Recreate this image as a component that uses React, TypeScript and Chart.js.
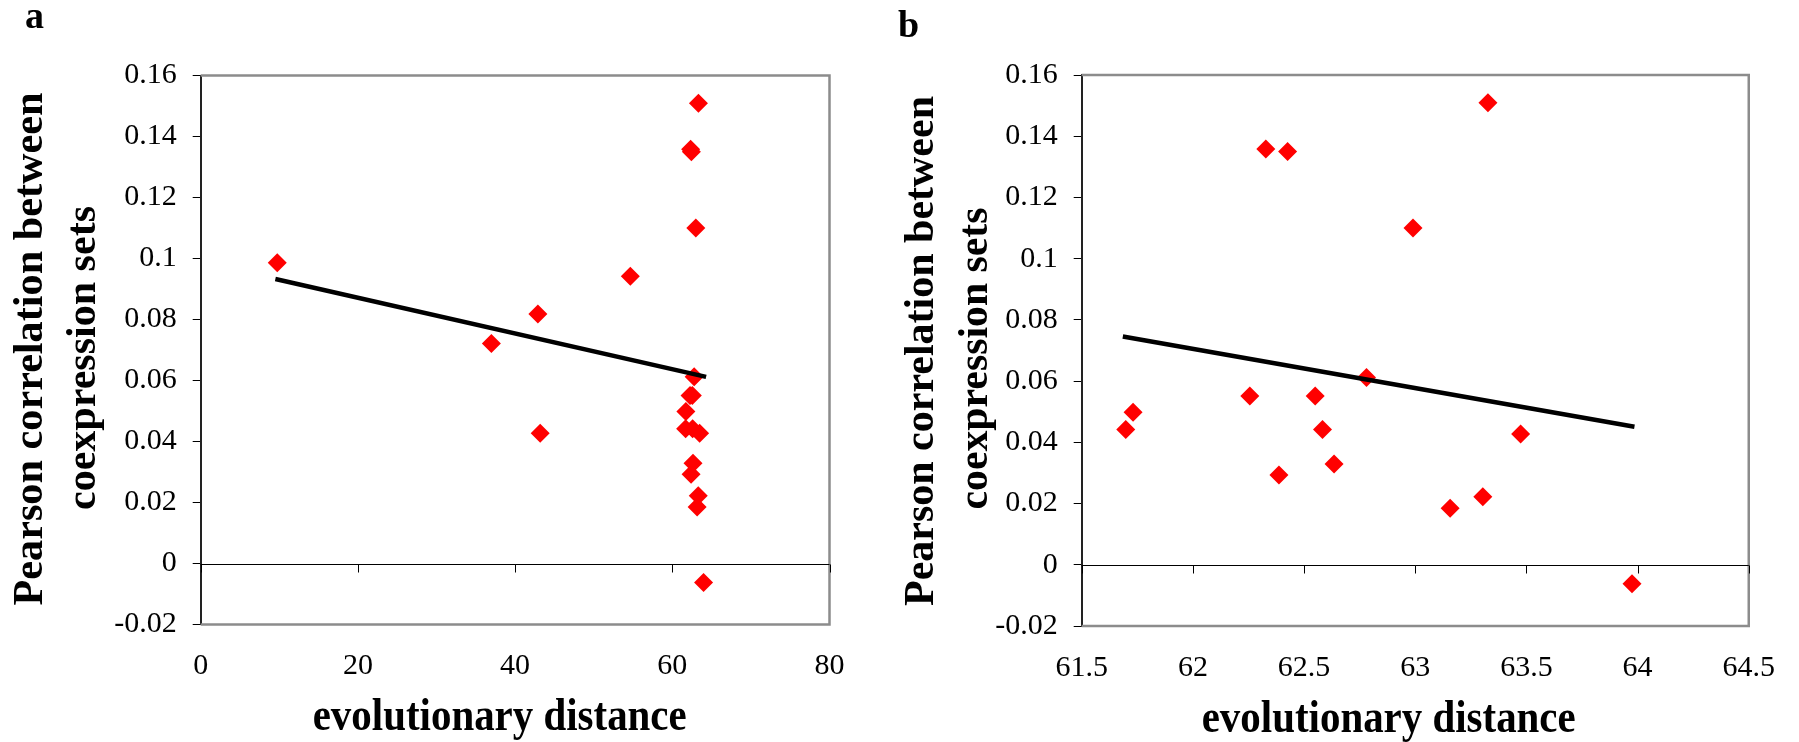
import React, { useEffect, useRef } from "react";
import { Chart, registerables } from "chart.js";

Chart.register(...registerables);

const FONT = '"Liberation Serif", "Times New Roman", Times, serif';

// ---- data ----
// points only present in panel a (small evolutionary distances)
const farDistanceA = [9.74, 36.98, 42.9, 43.19, 54.66];
const farCorrA = [0.0986, 0.0721, 0.0818, 0.0427, 0.0942];

// cluster of points (panel b, also shown in panel a)
const clusterDistance = [
  61.698, 61.731, 62.256, 62.328, 62.387, 62.426, 62.55, 62.583, 62.635, 62.781,
  62.99, 63.157, 63.304, 63.327, 63.474, 63.975,
];
const clusterCorr = [
  0.0442, 0.0498, 0.0551, 0.1358, 0.0293, 0.135, 0.0551, 0.0442, 0.0329, 0.0612,
  0.11, 0.0185, 0.0222, 0.1509, 0.0427, -0.0062,
];

// linear trend lines (end points)
const trendXA = [9.5, 64.3];
const trendYA = [0.0933, 0.0612];
const trendXB = [61.685, 63.986];
const trendYB = [0.0746, 0.0451];

// ticks
const yTicks = [-0.02, 0, 0.02, 0.04, 0.06, 0.08, 0.1, 0.12, 0.14, 0.16];
const xTicksA = [0, 20, 40, 60, 80];
const xTicksB = [61.5, 62, 62.5, 63, 63.5, 64, 64.5];

// texts
const panelLetters = ["a", "b"];
const yTitleLines = ["Pearson correlation between", "coexpression sets"];
const xTitle = "evolutionary distance";

type PanelSpec = {
  left: number;
  width: number;
  xMin: number;
  xMax: number;
  xTicks: number[];
  xs: number[];
  ys: number[];
  trendX: number[];
  trendY: number[];
  padTop: number;
  padRight: number;
  yAxisWidth: number;
  xAxisHeight: number;
  letter: string;
  letterX: number;
  letterBase: number;
  yTitleBase: number[];
  yTitleCenter: number[];
  yTitleLen: number[];
  xTitleCenter: number;
  xTitleBase: number;
  xTitleWidth: number;
};

const panels: PanelSpec[] = [
  {
    left: 0,
    width: 880,
    xMin: 0,
    xMax: 80,
    xTicks: xTicksA,
    xs: [...farDistanceA, ...clusterDistance],
    ys: [...farCorrA, ...clusterCorr],
    trendX: trendXA,
    trendY: trendYA,
    padTop: 75.5,
    padRight: 50.5,
    yAxisWidth: 200.7,
    xAxisHeight: 117.5,
    letter: panelLetters[0],
    letterX: 25,
    letterBase: 28.3,
    yTitleBase: [41.7, 95],
    yTitleCenter: [349, 358],
    yTitleLen: [513, 304],
    xTitleCenter: 499.7,
    xTitleBase: 730,
    xTitleWidth: 374,
  },
  {
    left: 880,
    width: 919,
    xMin: 61.5,
    xMax: 64.5,
    xTicks: xTicksB,
    xs: clusterDistance,
    ys: clusterCorr,
    trendX: trendXB,
    trendY: trendYB,
    padTop: 75,
    padRight: 48.5,
    yAxisWidth: 201.7,
    xAxisHeight: 116,
    letter: panelLetters[1],
    letterX: 18,
    letterBase: 36.7,
    yTitleBase: [53.3, 107],
    yTitleCenter: [351, 358.5],
    yTitleLen: [510, 302],
    xTitleCenter: 508.7,
    xTitleBase: 731.5,
    xTitleWidth: 374,
  },
];

function fitText(ctx: CanvasRenderingContext2D, text: string, target: number) {
  const w = ctx.measureText(text).width;
  return w > 0 ? target / w : 1;
}

function makeChart(canvas: HTMLCanvasElement, p: PanelSpec) {
  const decor = {
    id: "decor",
    beforeDatasetsDraw(chart: any) {
      const { ctx, chartArea: ca, scales } = chart;
      const x = scales.x;
      const y = scales.y;
      ctx.save();
      // gray plot-area frame (top, right, bottom)
      ctx.strokeStyle = "#8c8c8c";
      ctx.lineWidth = 2.5;
      ctx.beginPath();
      ctx.moveTo(ca.left, ca.top);
      ctx.lineTo(ca.right, ca.top);
      ctx.lineTo(ca.right, ca.bottom);
      ctx.lineTo(ca.left, ca.bottom);
      ctx.stroke();
      // x axis crossing at y = 0
      const y0 = Math.round(y.getPixelForValue(0)) + 0.5;
      ctx.strokeStyle = "#000";
      ctx.lineWidth = 1;
      ctx.beginPath();
      ctx.moveTo(ca.left, y0);
      ctx.lineTo(ca.right, y0);
      for (const t of x.ticks) {
        const px = Math.round(x.getPixelForValue(t.value)) + 0.5;
        ctx.moveTo(px, y0);
        ctx.lineTo(px, y0 + 8);
      }
      ctx.stroke();
      ctx.restore();
    },
    afterDraw(chart: any) {
      const ctx: CanvasRenderingContext2D = chart.ctx;
      ctx.save();
      ctx.fillStyle = "#000";
      ctx.textBaseline = "alphabetic";
      // panel letter
      ctx.font = `bold 38px ${FONT}`;
      ctx.textAlign = "left";
      ctx.fillText(p.letter, p.letterX, p.letterBase);
      // y title (two lines, rotated)
      ctx.font = `bold 42px ${FONT}`;
      ctx.textAlign = "center";
      yTitleLines.forEach((line, i) => {
        const s = fitText(ctx, line, p.yTitleLen[i]);
        ctx.save();
        ctx.translate(p.yTitleBase[i], p.yTitleCenter[i]);
        ctx.rotate(-Math.PI / 2);
        ctx.scale(s, 1);
        ctx.fillText(line, 0, 0);
        ctx.restore();
      });
      // x title
      ctx.font = `bold 46px ${FONT}`;
      const sx = fitText(ctx, xTitle, p.xTitleWidth);
      ctx.save();
      ctx.translate(p.xTitleCenter, p.xTitleBase);
      ctx.scale(sx, 1);
      ctx.fillText(xTitle, 0, 0);
      ctx.restore();
      ctx.restore();
    },
  };

  const tickFont = { family: FONT, size: 30 };

  return new Chart(canvas, {
    type: "scatter",
    data: {
      datasets: [
        {
          type: "line",
          data: p.trendX.map((v, i) => ({ x: v, y: p.trendY[i] })),
          borderColor: "#000",
          borderWidth: 4.5,
          borderCapStyle: "butt",
          pointRadius: 0,
          fill: false,
          tension: 0,
        } as any,
        {
          type: "scatter",
          data: p.xs.map((v, i) => ({ x: v, y: p.ys[i] })),
          pointStyle: "rectRot",
          pointRadius: 9.5,
          pointHoverRadius: 9.5,
          backgroundColor: "#ff0000",
          borderWidth: 0,
          clip: false,
        } as any,
      ],
    },
    options: {
      animation: false,
      responsive: false,
      events: [],
      layout: {
        padding: { left: 0, top: p.padTop, right: p.padRight, bottom: 0 },
      },
      plugins: {
        legend: { display: false },
        tooltip: { enabled: false },
        title: { display: false },
      },
      scales: {
        x: {
          type: "linear",
          min: p.xMin,
          max: p.xMax,
          afterBuildTicks: (s: any) => {
            s.ticks = p.xTicks.map((v) => ({ value: v }));
          },
          afterFit: (s: any) => {
            s.height = p.xAxisHeight;
          },
          grid: { display: false, drawTicks: false },
          border: { display: false },
          ticks: {
            font: tickFont,
            color: "#000",
            padding: 24,
            maxRotation: 0,
            autoSkip: false,
            callback: (v: any) => String(v),
          },
        },
        y: {
          type: "linear",
          min: -0.02,
          max: 0.16,
          afterBuildTicks: (s: any) => {
            s.ticks = yTicks.map((v) => ({ value: v }));
          },
          afterFit: (s: any) => {
            s.width = p.yAxisWidth;
          },
          grid: {
            display: true,
            drawOnChartArea: false,
            drawTicks: true,
            tickLength: 8,
            color: "#000",
            lineWidth: 1,
          },
          border: { display: true, color: "#222", width: 2 },
          ticks: {
            font: tickFont,
            color: "#000",
            padding: 16,
            autoSkip: false,
            callback: (v: any) => String(+Number(v).toFixed(4)),
          },
        },
      },
    } as any,
    plugins: [decor],
  });
}

function Panel({ spec }: { spec: PanelSpec }) {
  const ref = useRef<HTMLCanvasElement | null>(null);
  useEffect(() => {
    if (!ref.current) return;
    const chart = makeChart(ref.current, spec);
    return () => chart.destroy();
  }, [spec]);
  return (
    <canvas
      ref={ref}
      width={spec.width}
      height={742}
      style={{
        position: "absolute",
        left: spec.left,
        top: 0,
        width: spec.width,
        height: 742,
        display: "block",
      }}
    />
  );
}

export default function App() {
  return (
    <div
      style={{
        position: "absolute",
        left: 0,
        top: 0,
        width: 1799,
        height: 742,
        background: "#fff",
        overflow: "hidden",
      }}
    >
      {panels.map((p, i) => (
        <Panel key={i} spec={p} />
      ))}
    </div>
  );
}
